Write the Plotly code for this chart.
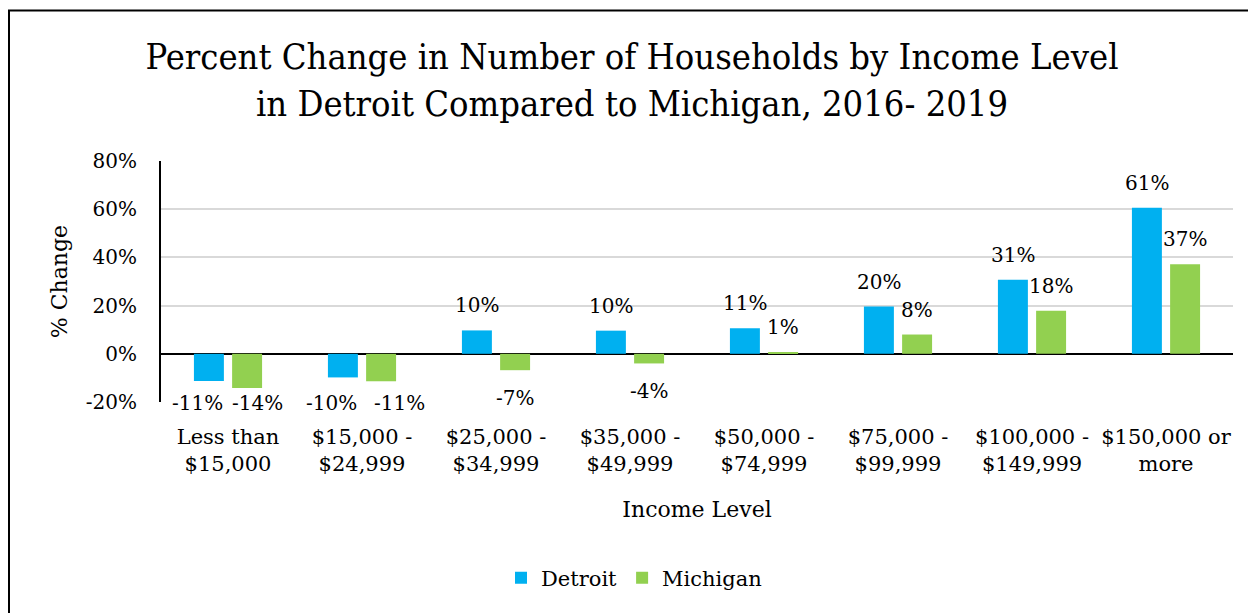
import plotly.graph_objects as go

categories = ["Less than<br>$15,000", "$15,000 -<br>$24,999", "$25,000 -<br>$34,999",
              "$35,000 -<br>$49,999", "$50,000 -<br>$74,999", "$75,000 -<br>$99,999",
              "$100,000 -<br>$149,999", "$150,000 or<br>more"]
detroit = [-11.3, -9.8, 9.7, 9.6, 10.6, 19.6, 30.7, 60.6]
michigan = [-14.2, -11.4, -6.8, -4.0, 0.6, 8.0, 17.9, 37.2]
series_names = ["Detroit", "Michigan"]
series_colors = ["#00B0F0", "#92D050"]
y_ticks = [-20, 0, 20, 40, 60, 80]

FONT = "DejaVu Serif"
TITLE_FONT = "DejaVu Serif Condensed, DejaVu Serif"
# the page body has an 8px margin, so the figure starts at (8, 8)
W, H = 1248, 605
ML, MR, MT, MB = 153, 23, 153, 211
PW, PH = W - ML - MR, H - MT - MB
YMIN, YMAX = -20, 80
PX_PER_UNIT = PH / (YMAX - YMIN)

fig = go.Figure()
for name, vals, col in zip(series_names, [detroit, michigan], series_colors):
    fig.add_trace(go.Bar(x=categories, y=vals, name=name, marker_color=col,
                         marker_line_width=0))

# data labels (outside end)
annotations = []
offsets = [-0.1425, 0.1425]
for s, vals in enumerate([detroit, michigan]):
    for i, v in enumerate(vals):
        other = [detroit, michigan][1 - s][i]
        xshift = 0
        if v >= 0:
            yshift = 25
        else:
            yshift = -min(28, (v + 20.6) * PX_PER_UNIT)
            if other < 0 and abs(other - v) < 5:
                xshift = -11 if s == 0 else 10 + 8 * (i % 2)
        annotations.append(dict(x=i + offsets[s], y=v, xref="x", yref="y",
                                text=f"{v:.0f}%", showarrow=False,
                                xshift=xshift, yshift=yshift,
                                yanchor="middle", xanchor="center",
                                font=dict(family=FONT, size=20, color="#000")))

fig.update_layout(
    width=W, height=H,
    margin=dict(l=ML, r=MR, t=MT, b=MB, autoexpand=False),
    paper_bgcolor="white", plot_bgcolor="white",
    barmode="group", bargap=0.43, bargroupgap=0.215,
    title=dict(text="Percent Change in Number of Households by Income Level<br>in Detroit Compared to Michigan, 2016- 2019",
               x=624 / W, xanchor="center", xref="container",
               y=1 - 61 / H, yanchor="top", yref="container",
               font=dict(family=TITLE_FONT, size=36, color="#000")),
    font=dict(family=FONT, size=20, color="#000"),
    legend=dict(orientation="h", x=(626 - ML) / PW, xanchor="center",
                y=(H - MB - 570) / PH, yanchor="middle",
                font=dict(family=FONT, size=21, color="#000"),
                itemsizing="constant", traceorder="normal"),
    annotations=annotations,
    shapes=[dict(type="rect", xref="paper", yref="paper",
                 x0=(1 - ML) / PW, x1=1.1, y0=-1.0, y1=(H - MB - 2.5) / PH,
                 line=dict(color="#000", width=2), fillcolor="rgba(0,0,0,0)", layer="below")],
)

fig.update_xaxes(showline=False, showgrid=False, zeroline=False, ticks="",
                 tickfont=dict(family=FONT, size=21, color="#000"),
                 ticklabelstandoff=20,
                 title=dict(text="Income Level", font=dict(family=FONT, size=22, color="#000"),
                            standoff=26))
fig.update_yaxes(range=[YMIN, YMAX], tickvals=y_ticks, ticktext=[f"{t}%" for t in y_ticks],
                 showgrid=True, gridcolor="#D9D9D9", gridwidth=1.5,
                 zeroline=True, zerolinecolor="#000", zerolinewidth=2,
                 showline=True, linecolor="#000", linewidth=2, ticks="",
                 tickfont=dict(family=FONT, size=20, color="#000"),
                 ticklabelstandoff=18,
                 title=dict(text="% Change", font=dict(family=FONT, size=22, color="#000"),
                            standoff=12))

fig.write_html("out.html")
